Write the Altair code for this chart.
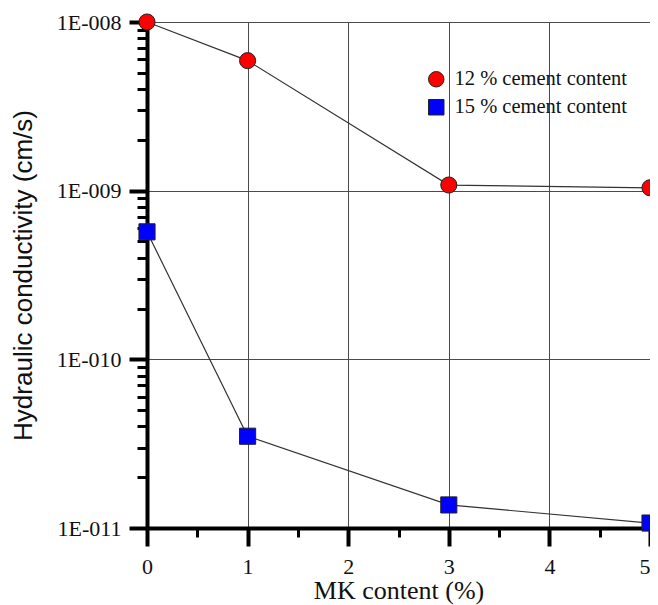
import math
import altair as alt
import pandas as pd

# ---- data ----
mk_content = [0, 1, 3, 5]
k_12 = [1.0e-8, 5.9e-9, 1.08e-9, 1.04e-9]
k_15 = [5.7e-10, 3.5e-11, 1.37e-11, 1.07e-11]
series_names = ["12 % cement content", "15 % cement content"]
series_colors = ["#ff0000", "#0000ff"]
series_shapes = ["circle", "square"]

x_major = [0, 1, 2, 3, 4, 5]
x_minor = [0.5, 1.5, 2.5, 3.5, 4.5]
x_labels = ["0", "1", "2", "3", "4", "5"]
y_major = [1e-11, 1e-10, 1e-9, 1e-8]
y_labels = ["1E-011", "1E-010", "1E-009", "1E-008"]
y_minor_mult = [2, 3, 4, 5, 6, 7, 8, 9]

rows = []
for name, vals in zip(series_names, [k_12, k_15]):
    for x, v in zip(mk_content, vals):
        rows.append({"series": name, "mk": x, "k": v})
df = pd.DataFrame(rows)

y_minor = [m * d for d in y_major[:-1] for m in y_minor_mult]
y_values = sorted(y_major + y_minor)
x_values = sorted(x_major + x_minor)

serif = "Liberation Serif"
sans = "Liberation Sans"

is_dec = "abs(log(datum.value)/LN10 - round(log(datum.value)/LN10)) < 0.001"
y_label_expr = ""
for v, lab in zip(y_major, y_labels):
    e = round(math.log10(v))
    y_label_expr += f"abs(log(datum.value)/LN10 - ({e})) < 0.001 ? '{lab}' : "
y_label_expr += "''"

x_label_expr = ""
for v, lab in zip(x_major, x_labels):
    x_label_expr += f"abs(datum.value - {v}) < 0.001 ? '{lab}' : "
x_label_expr += "''"
is_int = "abs(datum.value - round(datum.value)) < 0.001"
is_last = f"abs(datum.value - {x_major[-1]}) < 0.001"

x_axis = alt.Axis(
    values=x_values,
    labelExpr=x_label_expr,
    tickSize={"condition": {"test": is_int, "value": 18}, "value": 9},
    tickWidth={"condition": {"test": is_int, "value": 4}, "value": 3},
    gridOpacity={"condition": {"test": is_int, "value": 1}, "value": 0},
    labelAlign={"condition": {"test": is_last, "value": "right"}, "value": "center"},
    grid=True,
    gridColor="#4a4a4a",
    gridWidth=1,
    tickColor="black",
    domainColor="black",
    domainWidth=4,
    labelFont=serif,
    labelFontSize=22,
    labelColor="#111",
    labelPadding=10,
    labelFlush=False,
    labelOverlap=False,
    title="MK content (%)",
    titleFont=serif,
    titleFontSize=26,
    titleFontWeight="normal",
    titleColor="#111",
    titlePadding=0,
)

y_axis = alt.Axis(
    values=y_values,
    labelExpr=y_label_expr,
    tickSize={"condition": {"test": is_dec, "value": 18}, "value": 10},
    tickWidth={"condition": {"test": is_dec, "value": 4}, "value": 3},
    gridOpacity={"condition": {"test": is_dec, "value": 1}, "value": 0},
    grid=True,
    gridColor="#4a4a4a",
    gridWidth=1,
    tickColor="black",
    domainColor="black",
    domainWidth=4,
    labelFont=serif,
    labelFontSize=22,
    labelColor="#111",
    labelPadding=8,
    labelFlush=False,
    labelOverlap=False,
    title="Hydraulic conductivity (cm/s)",
    titleFont=sans,
    titleFontSize=26,
    titleFontWeight="normal",
    titleColor="#111",
    titlePadding=20,
)

x_enc = alt.X("mk:Q", scale=alt.Scale(domain=[0, 5], nice=False, zero=False), axis=x_axis)
y_enc = alt.Y("k:Q", scale=alt.Scale(type="log", domain=[1e-11, 1e-8], nice=False), axis=y_axis)

base = alt.Chart(df).encode(x=x_enc, y=y_enc)

lines = base.mark_line(color="#333333", strokeWidth=1.2).encode(detail="series:N")

legend = alt.Legend(
    orient="none",
    legendX=279,
    legendY=47,
    labelFont=serif,
    labelFontSize=20.5,
    labelColor="#111",
    labelOffset=8,
    labelLimit=400,
    symbolSize=240,
    symbolStrokeColor="#222",
    symbolStrokeWidth=1,
    rowPadding=7,
    title=None,
)

points = base.mark_point(filled=True, stroke="#222222", strokeWidth=1, opacity=1, size=260).encode(
    color=alt.Color("series:N", scale=alt.Scale(domain=series_names, range=series_colors), legend=legend),
    shape=alt.Shape("series:N", scale=alt.Scale(domain=series_names, range=series_shapes), legend=legend),
)

chart = (
    alt.layer(lines, points)
    .properties(
        width=503,
        height=506,
        autosize=alt.AutoSizeParams(type="none"),
        padding={"left": 139, "top": 14, "right": 0, "bottom": 85},
    )
    .configure_view(strokeWidth=0)
)

chart.save("out.html", embed_options={"renderer": "svg", "actions": False})
